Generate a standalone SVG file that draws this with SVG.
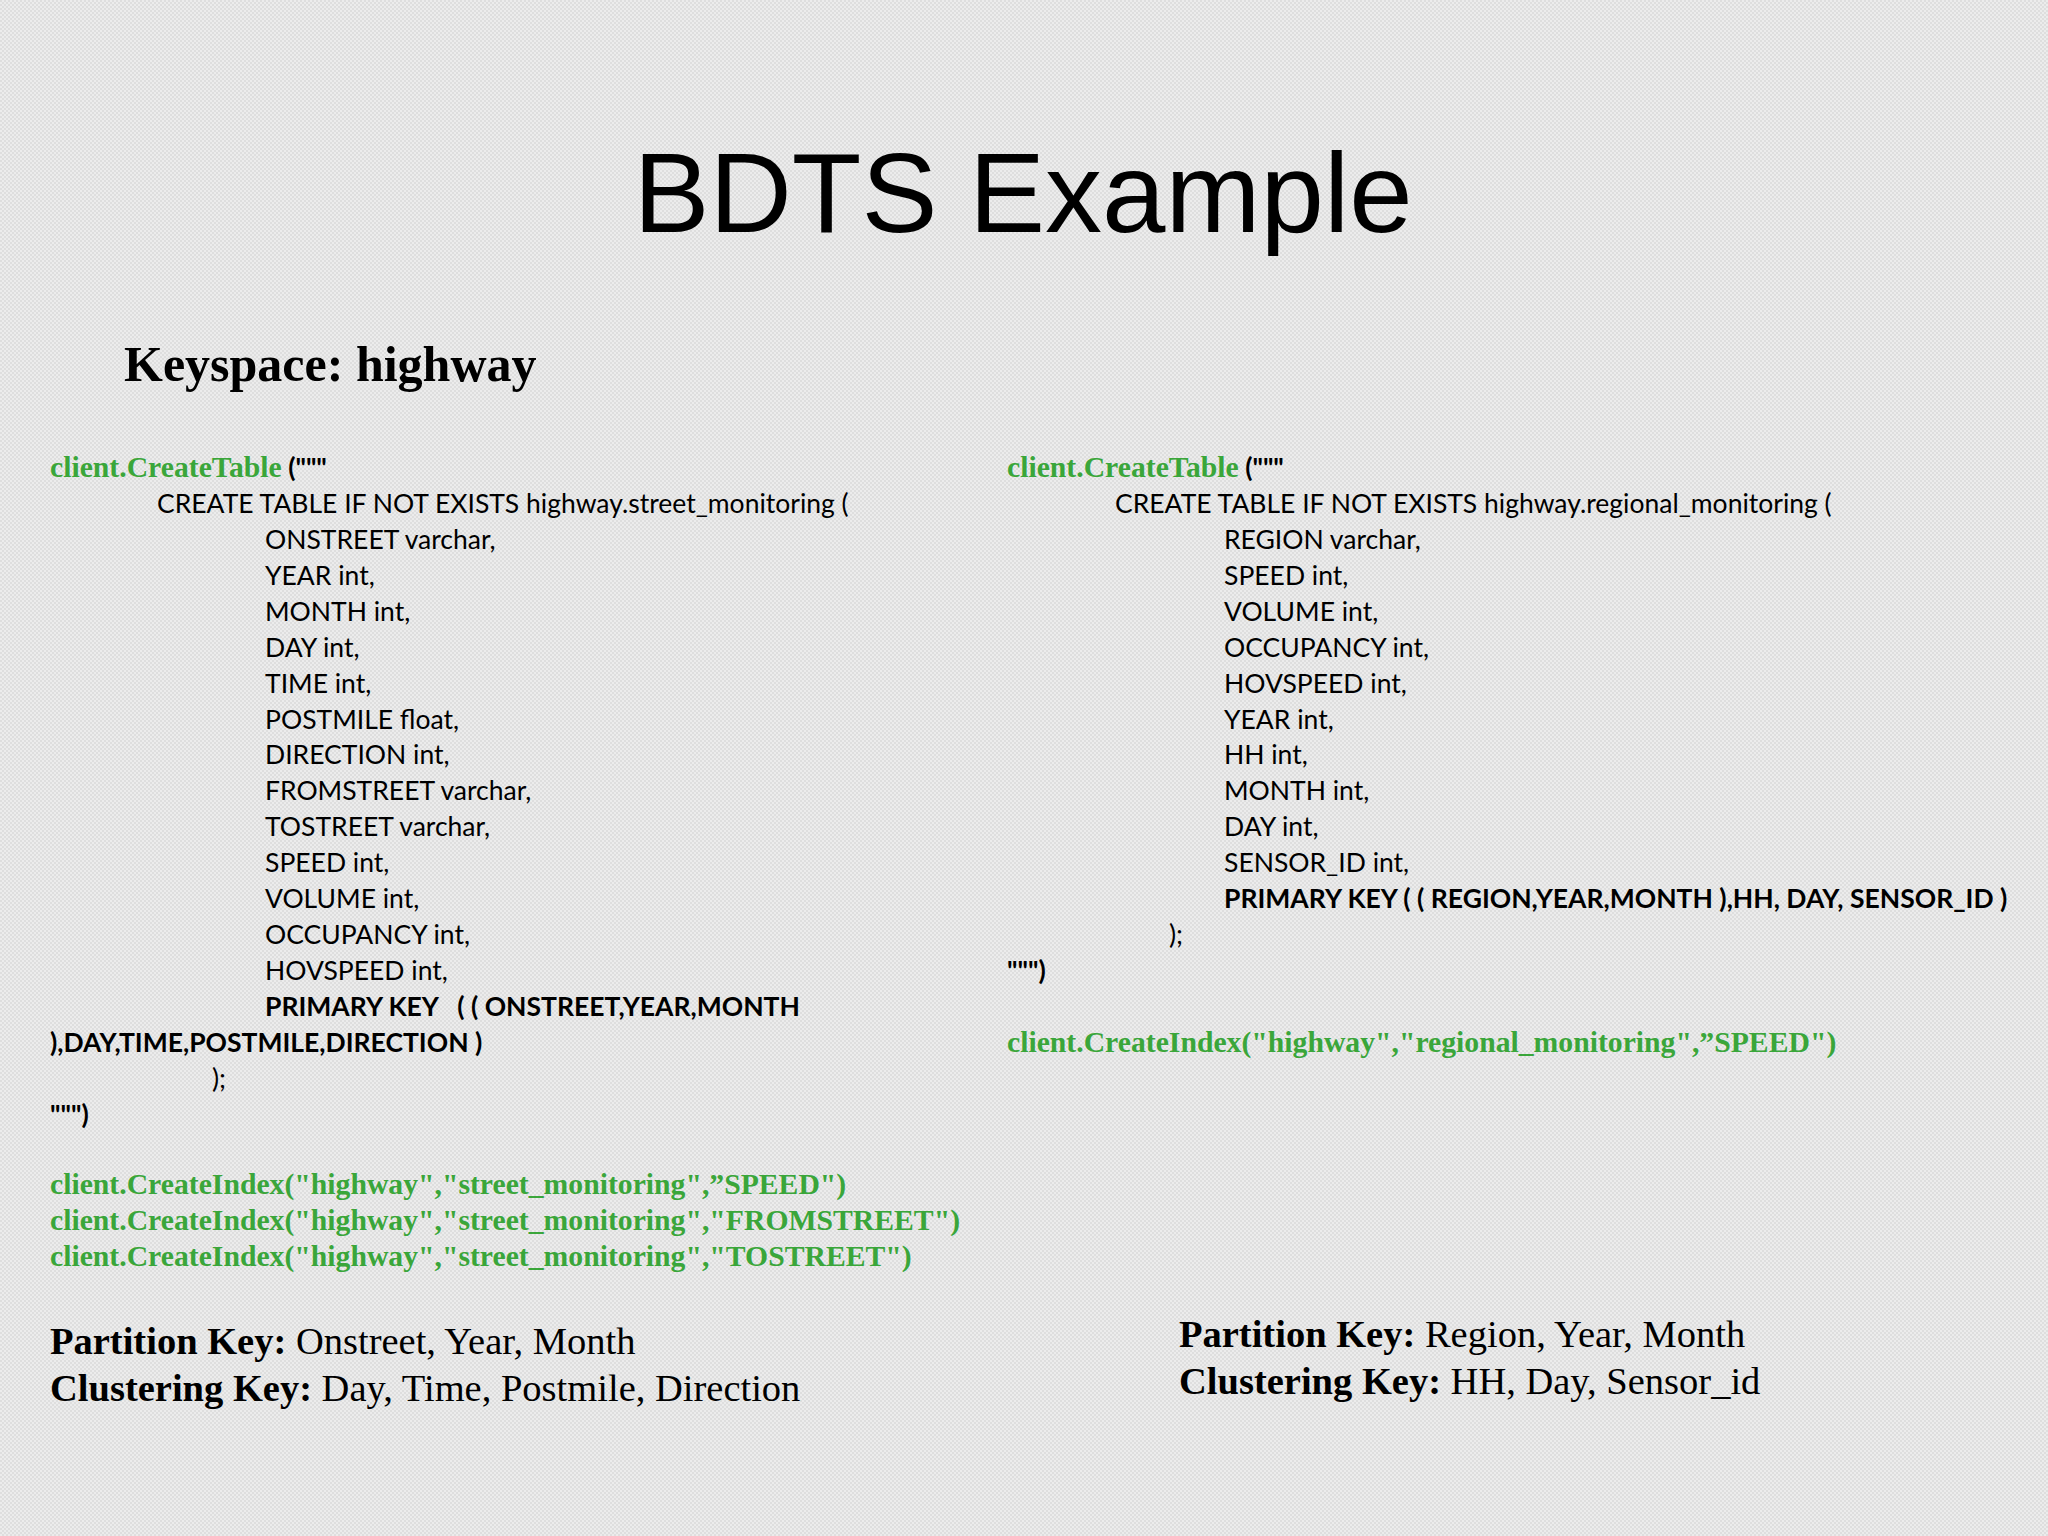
<svg xmlns="http://www.w3.org/2000/svg" width="2048" height="1536" viewBox="0 0 2048 1536">
<defs>
<pattern id="bg" width="4" height="4" patternUnits="userSpaceOnUse">
<rect width="4" height="4" fill="#ececec"/>
<rect width="2" height="2" fill="#dedede"/>
<rect x="2" y="2" width="2" height="2" fill="#dedede"/>
</pattern>
<style>
.c{font-family:Lato,"Open Sans",sans-serif;font-size:26.5px;fill:#000}
.b{font-weight:bold}
.g{font-family:"Liberation Serif",serif;font-size:29.7px;fill:#3aa63a;font-weight:bold}
.k{font-family:"Liberation Serif",serif;font-size:38.5px;fill:#000}
</style>
</defs>
<rect width="2048" height="1536" fill="url(#bg)"/>
<g id="title"><text x="1023" y="232" text-anchor="middle" font-family="Liberation Sans,Arial,sans-serif" font-size="114" fill="#000">BDTS Example</text></g>
<g id="keyspace"><text x="124" y="381" font-family="Liberation Serif,serif" font-size="50" font-weight="bold" fill="#000">Keyspace: highway</text></g>
<g id="left-code">
<text x="50" y="477"><tspan class="g">client.CreateTable</tspan><tspan class="c b"> ("""</tspan></text>
<text class="c" x="157" y="513">CREATE TABLE IF NOT EXISTS highway.street_monitoring (</text>
<text class="c" x="265" y="549">ONSTREET varchar,</text>
<text class="c" x="265" y="585">YEAR int,</text>
<text class="c" x="265" y="621">MONTH int,</text>
<text class="c" x="265" y="657">DAY int,</text>
<text class="c" x="265" y="693">TIME int,</text>
<text class="c" x="265" y="729">POSTMILE float,</text>
<text class="c" x="265" y="764">DIRECTION int,</text>
<text class="c" x="265" y="800">FROMSTREET varchar,</text>
<text class="c" x="265" y="836">TOSTREET varchar,</text>
<text class="c" x="265" y="872">SPEED int,</text>
<text class="c" x="265" y="908">VOLUME int,</text>
<text class="c" x="265" y="944">OCCUPANCY int,</text>
<text class="c" x="265" y="980">HOVSPEED int,</text>
<text class="c b" x="265" y="1016" xml:space="preserve">PRIMARY KEY   ( ( ONSTREET,YEAR,MONTH</text>
<text class="c b" x="50" y="1052">),DAY,TIME,POSTMILE,DIRECTION )</text>
<text class="c" x="212" y="1088">);</text>
<text class="c b" x="50" y="1124">""")</text>
<text class="g" x="50" y="1194">client.CreateIndex("highway","street_monitoring",”SPEED")</text>
<text class="g" x="50" y="1230">client.CreateIndex("highway","street_monitoring","FROMSTREET")</text>
<text class="g" x="50" y="1266">client.CreateIndex("highway","street_monitoring","TOSTREET")</text>
</g>
<g id="right-code">
<text x="1007" y="477"><tspan class="g">client.CreateTable</tspan><tspan class="c b"> ("""</tspan></text>
<text class="c" x="1115" y="513">CREATE TABLE IF NOT EXISTS highway.regional_monitoring (</text>
<text class="c" x="1224" y="549">REGION varchar,</text>
<text class="c" x="1224" y="585">SPEED int,</text>
<text class="c" x="1224" y="621">VOLUME int,</text>
<text class="c" x="1224" y="657">OCCUPANCY int,</text>
<text class="c" x="1224" y="693">HOVSPEED int,</text>
<text class="c" x="1224" y="729">YEAR int,</text>
<text class="c" x="1224" y="764">HH int,</text>
<text class="c" x="1224" y="800">MONTH int,</text>
<text class="c" x="1224" y="836">DAY int,</text>
<text class="c" x="1224" y="872">SENSOR_ID int,</text>
<text class="c b" x="1224" y="908">PRIMARY KEY ( ( REGION,YEAR,MONTH ),HH, DAY, SENSOR_ID )</text>
<text class="c" x="1169" y="944">);</text>
<text class="c b" x="1007" y="980">""")</text>
<text class="g" x="1007" y="1052">client.CreateIndex("highway","regional_monitoring",”SPEED")</text>
</g>
<g id="left-keys">
<text class="k" x="50" y="1354"><tspan font-weight="bold">Partition Key:</tspan> Onstreet, Year, Month</text>
<text class="k" x="50" y="1401"><tspan font-weight="bold">Clustering Key:</tspan> Day, Time, Postmile, Direction</text>
</g>
<g id="right-keys">
<text class="k" x="1179" y="1347"><tspan font-weight="bold">Partition Key:</tspan> Region, Year, Month</text>
<text class="k" x="1179" y="1394"><tspan font-weight="bold">Clustering Key:</tspan> HH, Day, Sensor_id</text>
</g>
</svg>
